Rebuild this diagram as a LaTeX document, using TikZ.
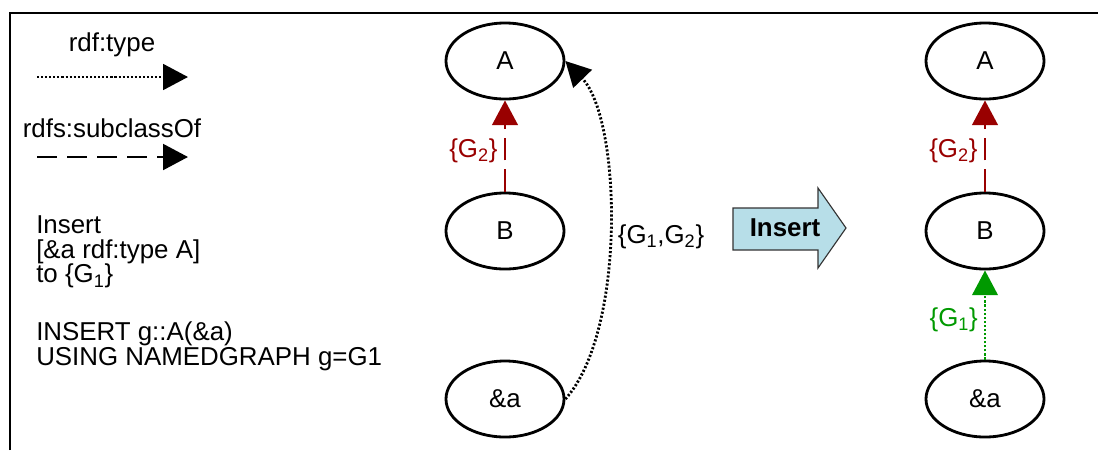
\documentclass[tikz,border=0pt]{standalone}
\usepackage{fontspec}
\setmainfont{Liberation Sans}
\usepackage{xcolor}
\definecolor{colSub}{RGB}{153,0,0}
\definecolor{colType}{RGB}{0,153,0}
\definecolor{colIns}{RGB}{183,222,232}
\usepackage{tikz}
\usetikzlibrary{arrows.meta, shapes.geometric}
\newcommand{\diagfont}{\fontsize{18.4pt}{17.6pt}\selectfont}
\tikzset{
	classnode/.style={draw, ellipse, line width=2pt, minimum width=2.95cm, minimum height=1.9cm, inner sep=0pt},
	txtblock/.style={anchor=west, align=left, inner sep=0pt},
	typearr/.style={-{Triangle[length=0.62cm, width=0.64cm]}, line width=1.8pt, dash pattern=on 1.5pt off 1.4pt},
	subarr/.style={-{Triangle[length=0.62cm, width=0.64cm]}, line width=2pt, dash pattern=on 0.5cm off 0.25cm},
	redsub/.style={subarr, colSub, dash pattern=on 0.56cm off 0.22cm},
	greentype/.style={typearr, colType, line width=1.6pt},
	frameline/.style={line width=1.8pt},
}

\begin{document}
\begin{tikzpicture}[x=0.025cm, y=-0.025cm, font=\diagfont]
	\useasboundingbox (0,0) rectangle (1098,450);
	\draw[frameline] (10,450) -- (10,13) -- (1098,13);

	% legend
	\node (lgType) at (112,45) {rdf:type};
	\coordinate (lgTypeS) at (37,77);
	\coordinate (lgTypeE) at (188,77);
	\draw[typearr] (lgTypeS) -- (lgTypeE);
	\node (lgSub) at (112,128) {rdfs:subclassOf};
	\coordinate (lgSubS) at (37,157);
	\coordinate (lgSubE) at (188,157);
	\draw[subarr] (lgSubS) -- (lgSubE);

	\node[txtblock] (stmt) at (36,252) {Insert\\{[}\&a rdf:type A{]}\\to \{G\textsubscript{1}\}};
	\node[txtblock] (query) at (36,346) {INSERT g::A(\&a)\\USING NAMEDGRAPH g=G1};

	% before
	\node[classnode] (A1) at (505,61) {A};
	\node[classnode] (B1) at (505,231) {B};
	\node[classnode] (x1) at (505,399) {\&a};
	\draw[redsub] (B1) -- node[left=1pt, pos=0.45] (lbSub1) {\{G\textsubscript{2}\}} (A1);
	\draw[typearr, line width=2pt] (x1.east) .. controls +(61,-68) and +(56,58) .. (A1.east);
	\node (lbType1) at (661,237) {\{G\textsubscript{1},G\textsubscript{2}\}};

	% insert step
	\draw[draw=black!80, line width=0.8pt, fill=colIns] (733,208) -- (818,208) -- (818,188) -- (846,228) -- (818,268) -- (818,250) -- (733,250) -- cycle;
	\node (ins) at (785,228) {\bfseries Insert};

	% after
	\node[classnode] (A2) at (985,61) {A};
	\node[classnode] (B2) at (985,231) {B};
	\node[classnode] (x2) at (985,399) {\&a};
	\draw[redsub] (B2) -- node[left=1pt, pos=0.45, colSub] (lbSub2) {\{G\textsubscript{2}\}} (A2);
	\draw[greentype] (x2) -- node[left=1pt, pos=0.45, colType] (lbType2) {\{G\textsubscript{1}\}} (B2);
\end{tikzpicture}
\end{document}
